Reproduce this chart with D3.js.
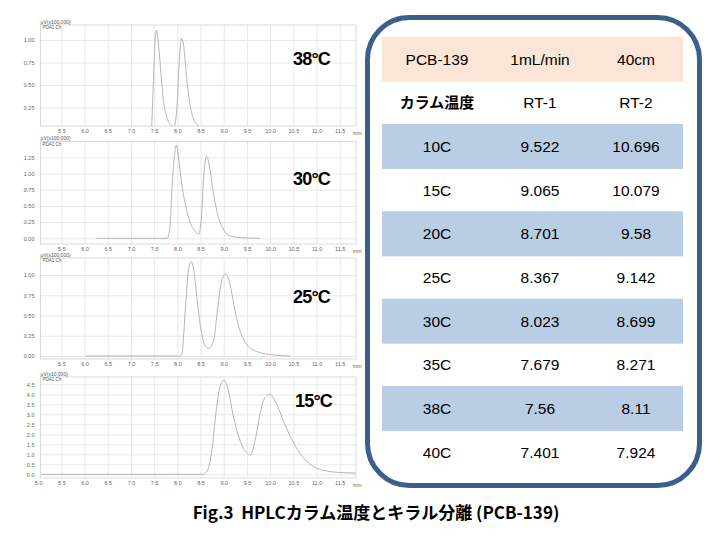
<!DOCTYPE html>
<html>
<head>
<meta charset="utf-8">
<script src="https://cdn.jsdelivr.net/npm/d3@7"></script>
<style>
  body { margin: 0; background: #fff; }
  text { font-family: "Liberation Sans", Arial, sans-serif; }
</style>
</head>
<body>
<svg id="chart" width="720" height="540"></svg>
<script>
// chromatogram traces: [time (min), signal]
const trace38 = [
  [7.40, 0.0], [7.442, 0.037], [7.479, 0.481], [7.513, 0.926], [7.550, 1.111], [7.600, 0.926],
  [7.651, 0.592], [7.707, 0.297], [7.781, 0.13], [7.888, 0.044], [7.923, 0.037], [7.981, 0.186],
  [8.031, 0.667], [8.067, 0.944], [8.089, 1.019], [8.138, 0.926], [8.196, 0.592], [8.268, 0.297],
  [8.354, 0.111], [8.462, 0.044], [8.569, 0.03], [8.65, 0.02]
];
const trace30 = [
  [6.25, 0], [7.781, 0], [7.837, 0.154], [7.888, 0.82], [7.938, 1.285], [7.974, 1.44], [8.017, 1.285],
  [8.088, 0.873], [8.174, 0.514], [8.283, 0.231], [8.39, 0.102], [8.462, 0.066], [8.52, 0.36],
  [8.57, 0.977], [8.628, 1.26], [8.686, 1.131], [8.772, 0.719], [8.871, 0.36], [9.0, 0.128],
  [9.145, 0.035], [9.36, 0.01], [9.79, 0.0]
];
const trace25 = [
  [6.02, 0], [8.067, 0], [8.105, 0.04], [8.138, 0.28], [8.19, 0.73], [8.24, 1.06], [8.298, 1.164],
  [8.354, 1.06], [8.427, 0.69], [8.498, 0.362], [8.59, 0.136], [8.677, 0.095], [8.785, 0.198],
  [8.871, 0.609], [8.951, 0.917], [9.037, 1.012], [9.13, 0.897], [9.231, 0.589], [9.345, 0.321],
  [9.505, 0.136], [9.72, 0.053], [10.078, 0.012], [10.438, 0]
];
const trace15 = [
  [5.065, 0], [8.535, 0], [8.643, 0.165], [8.75, 1.3], [8.843, 3.3], [8.93, 4.465], [9.0, 4.715],
  [9.087, 4.3], [9.216, 2.8], [9.36, 1.63], [9.505, 1.05], [9.576, 0.965], [9.684, 1.8], [9.79, 3.13],
  [9.9, 3.88], [9.99, 4.0], [10.115, 3.63], [10.293, 2.63], [10.51, 1.55], [10.725, 0.8],
  [10.94, 0.38], [11.228, 0.165], [11.587, 0.08], [11.84, 0.065]
];

const xTicks = [5.5, 6.0, 6.5, 7.0, 7.5, 8.0, 8.5, 9.0, 9.5, 10.0, 10.5, 11.0, 11.5];
const xTicks15 = [5.0, 5.5, 6.0, 6.5, 7.0, 7.5, 8.0, 8.5, 9.0, 9.5, 10.0, 10.5, 11.0, 11.5];
const yTicks38 = [0.25, 0.5, 0.75, 1.0];
const yTicks30 = [0, 0.25, 0.5, 0.75, 1.0, 1.25];
const yTicks25 = [0, 0.25, 0.5, 0.75, 1.0];
const yTicks15 = [0, 0.5, 1.0, 1.5, 2.0, 2.5, 3.0, 3.5, 4.0, 4.5];

// table
const headerRow = ["PCB-139", "1mL/min", "40cm"];
const titleRow = ["カラム温度", "RT-1", "RT-2"];
const temps = ["10C", "15C", "20C", "25C", "30C", "35C", "38C", "40C"];
const rt1 = [9.522, 9.065, 8.701, 8.367, 8.023, 7.679, 7.56, 7.401];
const rt2 = [10.696, 10.079, 9.58, 9.142, 8.699, 8.271, 8.11, 7.924];

const caption = "Fig.3  HPLCカラム温度とキラル分離 (PCB-139)";

const svg = d3.select("#chart");
const plotLeft = 40.5, plotRight = 356;
const x = d3.scaleLinear().domain([5.05, 11.85]).range([plotLeft, plotRight]);

const panels = [
  { name: "38°C", unit: "μV(x100,000)", trace: trace38, yTicks: yTicks38, xt: xTicks, fmt: ".2f",
    top: 25, bottom: 126, yDomain: [0.044, 1.167], label: [293, 65] },
  { name: "30°C", unit: "μV(x100,000)", trace: trace30, yTicks: yTicks30, xt: xTicks, fmt: ".2f",
    top: 141.5, bottom: 244, yDomain: [-0.088, 1.494], label: [293, 185] },
  { name: "25°C", unit: "μV(x100,000)", trace: trace25, yTicks: yTicks25, xt: xTicks, fmt: ".2f",
    top: 258, bottom: 359, yDomain: [-0.037, 1.21], label: [293, 303] },
  { name: "15°C", unit: "μV(x10,000)", trace: trace15, yTicks: yTicks15, xt: xTicks15, fmt: ".1f",
    top: 377, bottom: 478, yDomain: [-0.185, 4.865], label: [295, 407] },
];

panels.forEach((p, i) => {
  const g = svg.append("g");
  const y = d3.scaleLinear().domain(p.yDomain).range([p.bottom, p.top]);
  const h = p.bottom - p.top;

  const xAxis = g.append("g")
    .attr("transform", `translate(0,${p.bottom})`)
    .call(d3.axisBottom(x).tickValues(p.xt).tickSize(-h).tickPadding(3).tickFormat(d3.format(".1f")));
  const yAxis = g.append("g")
    .attr("transform", `translate(${plotLeft},0)`)
    .call(d3.axisLeft(y).tickValues(p.yTicks).tickSize(-(plotRight - plotLeft)).tickPadding(6).tickFormat(d3.format(p.fmt)));
  [xAxis, yAxis].forEach(a => {
    a.select(".domain").remove();
    a.selectAll(".tick line").attr("stroke", "#e8e8e8");
    a.selectAll(".tick text").attr("fill", "#666").style("font-size", "5.5px");
  });
  // the 5.0 tick sits left of the box: keep its label only
  xAxis.selectAll(".tick").filter(d => d < 5.05).select("line").remove();

  g.append("text")
    .attr("x", x(11.5) + 13).attr("y", p.bottom + 8.5)
    .attr("fill", "#666").style("font-size", "5.5px")
    .text("min");

  g.append("rect")
    .attr("x", plotLeft).attr("y", p.top)
    .attr("width", plotRight - plotLeft).attr("height", h)
    .attr("fill", "none").attr("stroke", "#d2d2d2").attr("stroke-width", 0.8);

  g.append("text").attr("x", plotLeft).attr("y", p.top - 1.5)
    .attr("fill", "#555").style("font-size", "5px").text(p.unit);
  g.append("text").attr("x", plotLeft + 2).attr("y", p.top + 4)
    .attr("fill", "#555").style("font-size", "4.5px").text("PDA1 Ch");

  g.append("clipPath").attr("id", "clip" + i)
    .append("rect")
    .attr("x", plotLeft).attr("y", p.top)
    .attr("width", plotRight - plotLeft).attr("height", h);

  const line = d3.line()
    .x(d => x(d[0]))
    .y(d => y(d[1]))
    .curve(d3.curveMonotoneX);

  g.append("path")
    .datum(p.trace)
    .attr("clip-path", `url(#clip${i})`)
    .attr("d", line)
    .attr("fill", "none")
    .attr("stroke", "#adadad")
    .attr("stroke-width", 0.9);

  g.append("text")
    .attr("x", p.label[0]).attr("y", p.label[1])
    .style("font-size", "18px").style("font-weight", "bold")
    .style("letter-spacing", "-0.8px")
    .attr("fill", "#000")
    .text(p.name);
});

// table panel
svg.append("rect")
  .attr("x", 367.5).attr("y", 17.5)
  .attr("width", 332).attr("height", 468)
  .attr("rx", 42).attr("ry", 42)
  .attr("fill", "#fff")
  .attr("stroke", "#3b5e8b")
  .attr("stroke-width", 5);

const rows = [headerRow, titleRow].concat(temps.map((t, i) => [t, rt1[i], rt2[i]]));
const rowY = d3.scaleBand().domain(d3.range(rows.length)).range([36.7, 36.7 + 43.66 * rows.length]);
const colX = d3.scaleOrdinal().domain([0, 1, 2]).range([437, 540, 636]);

const rowG = svg.selectAll("g.row")
  .data(rows)
  .join("g")
  .attr("class", "row")
  .attr("transform", (d, i) => `translate(0,${rowY(i)})`);

rowG.filter((d, i) => i === 0 || (i >= 2 && i % 2 === 0))
  .append("rect")
  .attr("x", 382).attr("width", 301)
  .attr("height", 45)
  .attr("fill", d => d === headerRow ? "#fbe5d6" : "#b9cde5");

const isJa = d => d === "カラム温度";
rowG.selectAll("text")
  .data(d => d)
  .join("text")
  .attr("x", (d, j) => colX(j))
  .attr("y", 22.5)
  .attr("dy", "0.35em")
  .attr("text-anchor", "middle")
  .attr("fill", "#000")
  .style("font-size", d => isJa(d) ? "15px" : "15.5px")
  .style("font-family", d => isJa(d) ? "'Noto Sans CJK JP', sans-serif" : null)
  .style("font-weight", d => isJa(d) ? "bold" : null)
  .text(d => String(d));

svg.append("text")
  .attr("x", 376).attr("y", 519)
  .attr("text-anchor", "middle")
  .style("font-family", "'Noto Sans CJK JP', sans-serif")
  .style("font-weight", "bold")
  .style("font-size", "17px")
  .style("white-space", "pre")
  .attr("fill", "#000")
  .text(caption);
</script>
</body>
</html>
